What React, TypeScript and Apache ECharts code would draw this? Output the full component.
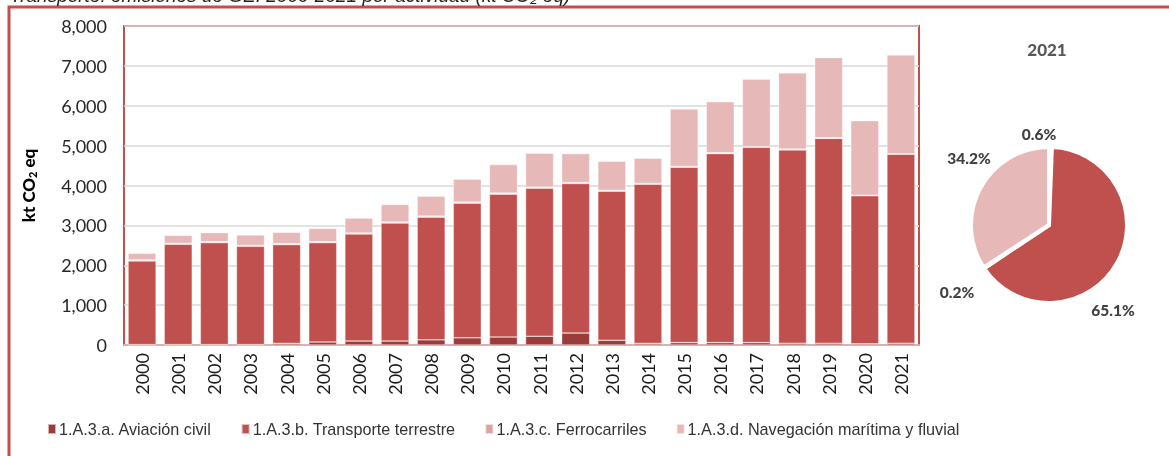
import React, { useEffect, useRef } from "react";
import * as echarts from "echarts";

const years = ["2000","2001","2002","2003","2004","2005","2006","2007","2008","2009","2010","2011","2012","2013","2014","2015","2016","2017","2018","2019","2020","2021"];
const aviacion = [10, 10, 10, 10, 40, 75, 100, 100, 130, 180, 200, 220, 300, 120, 40, 60, 60, 60, 45, 45, 30, 44];
const terrestre = [2098, 2515, 2557, 2465, 2477, 2492, 2683, 2958, 3078, 3378, 3583, 3713, 3750, 3738, 3993, 4398, 4740, 4898, 4847, 5138, 3712, 4739];
const ferrocarriles = [25, 25, 25, 25, 25, 25, 25, 25, 25, 25, 25, 25, 25, 20, 20, 20, 20, 20, 20, 15, 15, 15];
const navegacion = [167, 200, 225, 258, 283, 333, 375, 442, 500, 575, 717, 850, 725, 730, 630, 1439, 1280, 1689, 1913, 2010, 1868, 2477];

const seriesNames = ["1.A.3.a. Aviación civil", "1.A.3.b. Transporte terrestre", "1.A.3.c. Ferrocarriles", "1.A.3.d. Navegación marítima y fluvial"];
const seriesColors = ["#9c3c3a", "#c0504d", "#dba3a2", "#e6b8b7"];
const pieYear = "2021";
const pieShares = [0.6, 65.1, 0.2, 34.2];
const yTicks = [0, 1000, 2000, 3000, 4000, 5000, 6000, 7000, 8000];
const titleText = "Transporte: emisiones de GEI 2000-2021 por actividad (kt CO₂ eq)";

const pieLabelPos = [[1039, 134], [1113, 310], [957, 292], [969, 158]];

export default function App() {
  const ref = useRef<HTMLDivElement>(null);
  useEffect(() => {
    const chart = echarts.init(ref.current!, undefined, { renderer: "svg" });
    const seriesData = [aviacion, terrestre, ferrocarriles, navegacion];
    const font = "Lato, 'Noto Sans', sans-serif";
    chart.setOption({
      animation: false,
      textStyle: { fontFamily: font },
      graphic: [
        { type: "rect", shape: { x: 9, y: 7, width: 1300, height: 600 }, style: { fill: "none", stroke: "#c0504d", lineWidth: 3 }, z: 0 },
        { type: "text", x: 10, y: 5, style: { text: titleText, font: "italic 19px 'Liberation Sans', sans-serif", fill: "#222", verticalAlign: "bottom" } },
        { type: "text", x: 1047, y: 49, style: { text: pieYear, font: "900 17px Lato, sans-serif", fill: "#595959", align: "center", verticalAlign: "middle" } },
      ],
      grid: { left: 124, right: 250, top: 26, bottom: 111, show: true, borderColor: "#c0504d", borderWidth: 2, backgroundColor: "#fff" },
      legend: {
        left: 42, top: 416, itemWidth: 8, itemHeight: 10, itemGap: 29, icon: "rect",
        textStyle: { fontFamily: "'Liberation Sans', sans-serif", fontSize: 16.2, color: "#333", padding: [0, 0, 0, -2] },
        data: seriesNames,
      },
      xAxis: {
        type: "category", data: years,
        axisLine: { show: true, lineStyle: { color: "#dcb0ae", width: 2 } },
        axisTick: { show: false },
        axisLabel: { rotate: 90, fontSize: 18, color: "#1a1a1a", margin: 8, fontFamily: font },
      },
      yAxis: {
        type: "value", min: 0, max: 8000, interval: 1000,
        name: "kt CO{sub|2} eq", nameLocation: "middle", nameRotate: 90, nameGap: 86,
        nameTextStyle: { fontSize: 17, fontWeight: 900, color: "#000", fontFamily: font, rich: { sub: { fontSize: 11, fontWeight: 900, verticalAlign: "bottom", padding: [8, 0, 0, 0] } } },
        axisLabel: { fontSize: 18, color: "#262626", margin: 17, fontFamily: font, formatter: (v: number) => yTicks.includes(v) ? v.toLocaleString("en-US") : "" },
        splitLine: { lineStyle: { color: "#d9d9d9", width: 1.5 } },
        axisLine: { show: false }, axisTick: { show: false },
      },
      series: [
        ...seriesNames.map((name, i) => ({
          name, type: "bar", stack: "total", data: seriesData[i], barWidth: 28,
          itemStyle: { color: seriesColors[i], borderColor: "rgba(255,255,255,0.6)", borderWidth: 0.6 },
        })),
        {
          type: "pie", center: [1049, 225], radius: 78, startAngle: 90, clockwise: true,
          avoidLabelOverlap: false,
          itemStyle: { borderColor: "#fff", borderWidth: 4 },
          label: {
            show: true, position: "inside", fontSize: 15.5, fontWeight: 900, color: "#404040", fontFamily: font,
            formatter: (p: any) => p.value.toFixed(1) + "%",
          },
          labelLine: { show: false },
          labelLayout: (p: any) => ({ x: pieLabelPos[p.dataIndex][0], y: pieLabelPos[p.dataIndex][1], align: "center", verticalAlign: "middle", hideOverlap: false }),
          data: pieShares.map((v, i) => ({ name: seriesNames[i], value: v, itemStyle: { color: seriesColors[i] } })),
        },
      ],
    });
    return () => chart.dispose();
  }, []);
  return <div ref={ref} style={{ position: "fixed", left: 0, top: 0, width: 1169, height: 456 }} />;
}
